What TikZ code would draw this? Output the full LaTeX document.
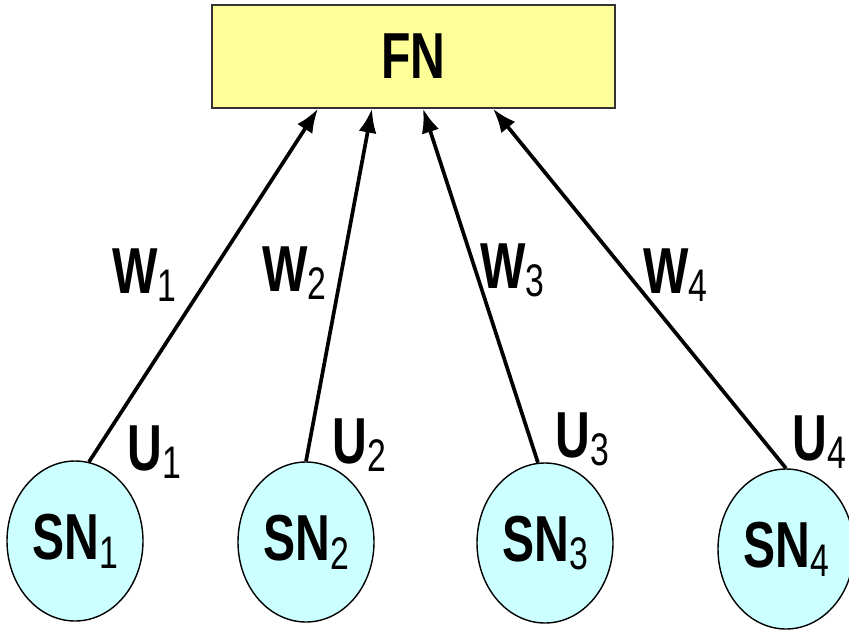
\documentclass[tikz,border=0pt]{standalone}
\usepackage{fontspec}
\setmainfont{Liberation Sans}[FakeStretch=0.74]
\usetikzlibrary{arrows.meta, shapes.geometric}
\definecolor{fnyellow}{HTML}{FFFF99}
\definecolor{sncyan}{HTML}{CCFFFF}
\newcommand{\lbl}[2]{#1\raisebox{-5pt}{\fontsize{26}{26}\mdseries\selectfont #2}}

\begin{document}
\begin{tikzpicture}[
    every node/.style={font=\fontsize{37}{40}\selectfont\bfseries},
    fnbox/.style={draw=black!80, line width=0.8pt, fill=fnyellow, minimum width=8.06cm, minimum height=2.06cm},
    snode/.style={ellipse, draw=black, line width=0.8pt, fill=sncyan, minimum width=2.72cm, minimum height=3.2cm, inner sep=0pt},
    wire/.style={line width=2.1pt, -{Latex[length=0.48cm,width=0.36cm]}},
    lab/.style={anchor=base west, inner sep=0pt}
]
    \useasboundingbox (0,0) rectangle (16.98,12.6);
    \node[fnbox] (fn) at (8.27,11.47) {FN};
    \node[snode] (sn1) at (1.50,1.78) {\lbl{SN}{1}};
    \node[snode] (sn2) at (6.12,1.76) {\lbl{SN}{2}};
    \node[snode] (sn3) at (10.90,1.74) {\lbl{SN}{3}};
    \node[snode] (sn4) at (15.72,1.62) {\lbl{SN}{4}};
    \draw[wire] (sn1.80) -- ([xshift=-1.91cm]fn.south);
    \draw[wire] (sn2.north) -- ([xshift=-0.83cm]fn.south);
    \draw[wire] (sn3.95) -- ([xshift=0.19cm]fn.south);
    \draw[wire] (sn4.north) -- ([xshift=1.59cm]fn.south);
    \node[lab] (w1) at (2.24,6.74) {\lbl{W}{1}};
    \node[lab] (w2) at (5.24,6.78) {\lbl{W}{2}};
    \node[lab] (w3) at (9.60,6.84) {\lbl{W}{3}};
    \node[lab] (w4) at (12.86,6.74) {\lbl{W}{4}};
    \node[lab] (u1) at (2.54,3.20) {\lbl{U}{1}};
    \node[lab] (u2) at (6.64,3.34) {\lbl{U}{2}};
    \node[lab] (u3) at (11.10,3.46) {\lbl{U}{3}};
    \node[lab] (u4) at (15.84,3.40) {\lbl{U}{4}};
\end{tikzpicture}
\end{document}
